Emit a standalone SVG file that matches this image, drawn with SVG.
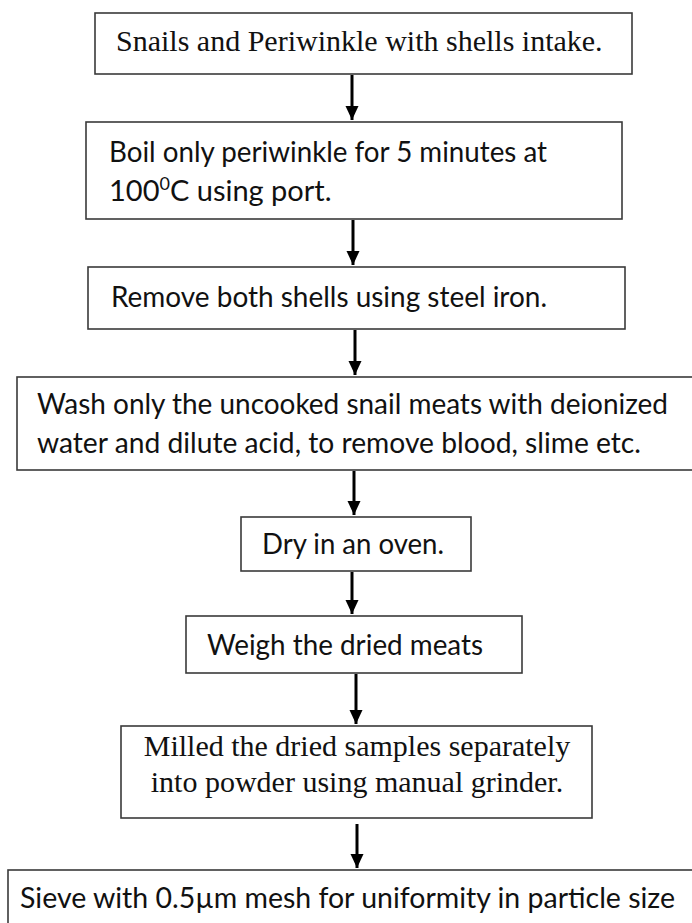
<svg xmlns="http://www.w3.org/2000/svg" width="692" height="923" viewBox="0 0 692 923">
<defs>
<style>
.box{fill:#fff;stroke:#3a3a3a;stroke-width:1.6}
.serif{font-family:"Liberation Serif","Times New Roman",serif;font-size:30px;fill:#111}
.sans{font-family:Lato,"Liberation Sans",sans-serif;font-size:29px;fill:#111}
.conn{stroke:#000;stroke-width:3;fill:none}
</style>
<marker id="ah" markerUnits="userSpaceOnUse" markerWidth="16" markerHeight="16" viewBox="0 0 16 16" refX="15" refY="8" orient="auto">
<path d="M1,1.5 L15,8 L1,14.5 Z" fill="#000"/>
</marker>
</defs>
<rect width="692" height="923" fill="#fff"/>
<g id="n1">
<rect class="box" x="95" y="13" width="537" height="61"/>
<text class="serif" x="116" y="51">Snails and Periwinkle with shells intake.</text>
</g>
<g id="n2">
<rect class="box" x="86" y="122" width="536" height="97"/>
<text class="sans" x="109" y="162" textLength="438" lengthAdjust="spacingAndGlyphs">Boil only periwinkle for 5 minutes at</text>
<text class="sans" x="109" y="201">100<tspan font-size="18" dy="-11">0</tspan><tspan dy="11">C using port.</tspan></text>
</g>
<g id="n3">
<rect class="box" x="88" y="267" width="537" height="62"/>
<text class="sans" x="111" y="307" textLength="436" lengthAdjust="spacingAndGlyphs">Remove both shells using steel iron.</text>
</g>
<g id="n4">
<rect class="box" x="17" y="377" width="690" height="93"/>
<text class="sans" x="37" y="414" textLength="631" lengthAdjust="spacingAndGlyphs">Wash only the uncooked snail meats with deionized</text>
<text class="sans" x="37" y="453" textLength="604" lengthAdjust="spacingAndGlyphs">water and dilute acid, to remove blood, slime etc.</text>
</g>
<g id="n5">
<rect class="box" x="241" y="517" width="230" height="54"/>
<text class="sans" x="262" y="554" textLength="182" lengthAdjust="spacingAndGlyphs">Dry in an oven.</text>
</g>
<g id="n6">
<rect class="box" x="186" y="616" width="336" height="57"/>
<text class="sans" x="207" y="655" textLength="276" lengthAdjust="spacingAndGlyphs">Weigh the dried meats</text>
</g>
<g id="n7">
<rect class="box" x="121" y="726" width="471" height="92"/>
<text class="serif" x="357" y="756" text-anchor="middle">Milled the dried samples separately</text>
<text class="serif" x="357" y="792" text-anchor="middle">into powder using manual grinder.</text>
</g>
<g id="n8">
<rect class="box" x="8" y="870" width="700" height="80"/>
<text class="sans" x="20" y="908" textLength="655" lengthAdjust="spacingAndGlyphs">Sieve with 0.5µm mesh for uniformity in particle size</text>
</g>
<g id="connectors">
<line class="conn" x1="352" y1="75" x2="352" y2="120" marker-end="url(#ah)"/>
<line class="conn" x1="353" y1="220" x2="353" y2="265" marker-end="url(#ah)"/>
<line class="conn" x1="355" y1="330" x2="355" y2="375" marker-end="url(#ah)"/>
<line class="conn" x1="354" y1="471" x2="354" y2="515" marker-end="url(#ah)"/>
<line class="conn" x1="352" y1="572" x2="352" y2="614" marker-end="url(#ah)"/>
<line class="conn" x1="356" y1="674" x2="356" y2="724" marker-end="url(#ah)"/>
<line class="conn" x1="357" y1="824" x2="357" y2="868" marker-end="url(#ah)"/>
</g>
</svg>
